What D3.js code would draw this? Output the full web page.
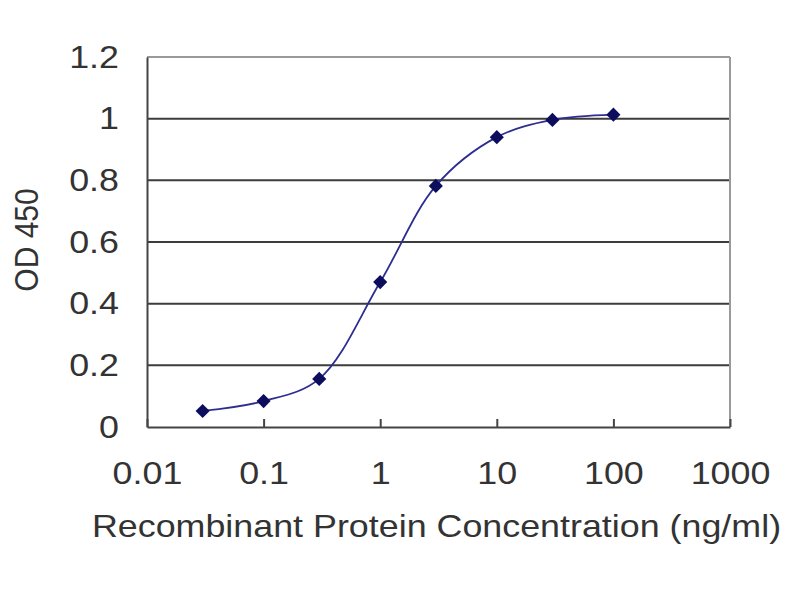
<!DOCTYPE html>
<html>
<head>
<meta charset="utf-8">
<script src="https://cdn.jsdelivr.net/npm/d3@7"></script>
<style>
  body { margin: 0; background: #fff; }
  text { font-family: "Liberation Sans", Arial, sans-serif; fill: #333; }
</style>
</head>
<body>
<div id="wrapper"></div>
<script>
// data
const concentrations = [0.03, 0.1, 0.3, 1, 3, 10, 30, 100]
const od450 = [0.052, 0.084, 0.156, 0.47, 0.782, 0.94, 0.996, 1.013]
const xTicks = [0.01, 0.1, 1, 10, 100, 1000]
const yTicks = [0, 0.2, 0.4, 0.6, 0.8, 1, 1.2]

function drawChart() {
  const dataset = concentrations.map((c, i) => ({ conc: c, od: od450[i] }))
  const xAccessor = d => d.conc
  const yAccessor = d => d.od

  // the source picture is a bit stretched sideways, so text gets the same
  const stretch = 1.12

  let dimensions = {
    width: 800,
    height: 600,
    margin: {
      top: 57,
      right: 70,
      bottom: 173,
      left: 147,
    },
  }
  dimensions.boundedWidth = dimensions.width - dimensions.margin.left - dimensions.margin.right
  dimensions.boundedHeight = dimensions.height - dimensions.margin.top - dimensions.margin.bottom

  const wrapper = d3.select("#wrapper")
    .append("svg")
      .attr("width", dimensions.width)
      .attr("height", dimensions.height)

  const bounds = wrapper.append("g")
      .attr("transform", `translate(${dimensions.margin.left}, ${dimensions.margin.top})`)

  // scales
  const xScale = d3.scaleLog()
    .domain([0.01, 1000])
    .range([0, dimensions.boundedWidth])

  const yScale = d3.scaleLinear()
    .domain([0, 1.2])
    .range([dimensions.boundedHeight, 0])

  // gridlines
  bounds.append("g")
    .selectAll("line")
    .data(yTicks.filter(d => d > 0))
    .join("line")
      .attr("x1", 0)
      .attr("x2", dimensions.boundedWidth)
      .attr("y1", d => yScale(d))
      .attr("y2", d => yScale(d))
      .attr("stroke", d => d === 1.2 ? "#9a9a9a" : "#3c3c3c")
      .attr("stroke-width", 2)

  // right border
  bounds.append("line")
      .attr("x1", dimensions.boundedWidth)
      .attr("x2", dimensions.boundedWidth)
      .attr("y1", 0)
      .attr("y2", dimensions.boundedHeight)
      .attr("stroke", "#9a9a9a")
      .attr("stroke-width", 2)

  // axes
  const xAxisGenerator = d3.axisBottom(xScale)
    .tickValues(xTicks)
    .tickSize(-8)
    .tickSizeOuter(0)
    .tickFormat(d => String(d))

  const xAxis = bounds.append("g")
      .attr("transform", `translate(0, ${dimensions.boundedHeight})`)
      .call(xAxisGenerator)
  xAxis.select(".domain").attr("stroke", "#444").attr("stroke-width", 2)
  xAxis.selectAll(".tick line").attr("stroke", "#444").attr("stroke-width", 2)
  xAxis.selectAll(".tick text")
      .attr("y", 57)
      .attr("dy", 0)
      .attr("transform", `scale(${stretch}, 1)`)
      .style("font-size", "32px")
      .attr("fill", "#333")

  const yAxisGenerator = d3.axisLeft(yScale)
    .tickValues(yTicks)
    .tickSize(0)
    .tickPadding(28 / stretch)
    .tickFormat(d => String(d))

  const yAxis = bounds.append("g")
      .call(yAxisGenerator)
  yAxis.select(".domain").attr("stroke", "#444").attr("stroke-width", 2)
  yAxis.selectAll(".tick text")
      .attr("transform", `scale(${stretch}, 1)`)
      .style("font-size", "32px")
      .attr("fill", "#333")

  // axis labels
  wrapper.append("text")
      .attr("transform", `translate(${dimensions.margin.left + dimensions.boundedWidth / 2 - 2}, 537) scale(${stretch}, 1)`)
      .attr("text-anchor", "middle")
      .style("font-size", "32px")
      .text("Recombinant Protein Concentration (ng/ml)")

  wrapper.append("text")
      .attr("transform", `translate(38, ${dimensions.margin.top + dimensions.boundedHeight / 2 - 2}) scale(${stretch}, 1) rotate(-90)`)
      .attr("text-anchor", "middle")
      .style("font-size", "30px")
      .text("OD 450")

  // smoothed line
  const lineGenerator = d3.line()
    .x(d => xScale(xAccessor(d)))
    .y(d => yScale(yAccessor(d)))
    .curve(d3.curveCatmullRom.alpha(0.5))

  bounds.append("path")
      .attr("d", lineGenerator(dataset))
      .attr("fill", "none")
      .attr("stroke", "#2e2e90")
      .attr("stroke-width", 1.8)

  // diamond markers
  const diamond = d3.symbol().type(d3.symbolSquare).size(100)
  bounds.selectAll(".marker")
    .data(dataset)
    .join("path")
      .attr("class", "marker")
      .attr("d", diamond)
      .attr("transform", d => `translate(${xScale(xAccessor(d))}, ${yScale(yAccessor(d))}) rotate(45)`)
      .attr("fill", "#0d0d5e")
}
drawChart()
</script>
</body>
</html>
